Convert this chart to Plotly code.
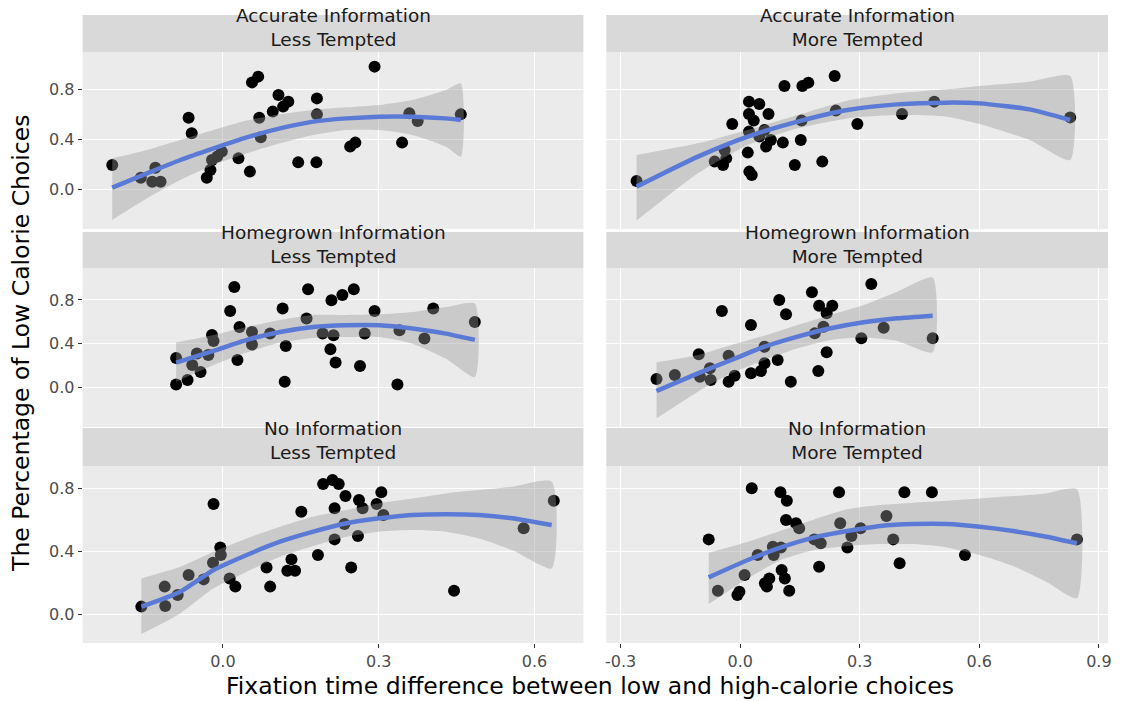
import plotly.graph_objects as go

# ---------------- data ----------------
# Panel: Accurate Information / Less Tempted
acc_less_x = [-0.213, -0.158, -0.136, -0.13, -0.12, -0.066, -0.06, -0.031, -0.024, -0.021, -0.011, -0.002,
              0.03, 0.052, 0.056, 0.068, 0.07, 0.073, 0.096, 0.107, 0.116, 0.126, 0.145, 0.18, 0.181, 0.181,
              0.245, 0.255, 0.292, 0.345, 0.359, 0.375, 0.458]
acc_less_y = [0.192, 0.09, 0.058, 0.17, 0.058, 0.57, 0.446, 0.09, 0.152, 0.232, 0.259, 0.299,
              0.245, 0.139, 0.853, 0.899, 0.57, 0.413, 0.619, 0.752, 0.659, 0.699, 0.213, 0.213, 0.725, 0.597,
              0.339, 0.371, 0.979, 0.371, 0.605, 0.544, 0.597]
acc_less_sx = [-0.213, -0.146, -0.082, -0.018, 0.046, 0.110, 0.174, 0.238, 0.301, 0.365, 0.429, 0.458]
acc_less_fit = [0.011, 0.125, 0.232, 0.325, 0.413, 0.485, 0.539, 0.565, 0.579, 0.579, 0.565, 0.552]
acc_less_lo = [-0.248, -0.075, 0.072, 0.192, 0.285, 0.365, 0.432, 0.472, 0.472, 0.432, 0.339, 0.259]
acc_less_hi = [0.245, 0.312, 0.392, 0.472, 0.547, 0.597, 0.632, 0.653, 0.672, 0.712, 0.792, 0.845]

# Panel: Accurate Information / More Tempted
acc_more_x = [-0.26, -0.064, -0.043, -0.035, -0.039, -0.02, 0.022, 0.022, 0.022, 0.019, 0.023, 0.029,
              0.034, 0.048, 0.048, 0.061, 0.065, 0.071, 0.077, 0.107, 0.111, 0.137, 0.152, 0.154, 0.156,
              0.171, 0.206, 0.237, 0.24, 0.294, 0.406, 0.487, 0.828]
acc_more_y = [0.064, 0.219, 0.192, 0.245, 0.312, 0.52, 0.699, 0.6, 0.459, 0.291, 0.139, 0.112,
              0.547, 0.68, 0.419, 0.472, 0.339, 0.6, 0.392, 0.371, 0.824, 0.192, 0.392, 0.547, 0.824,
              0.851, 0.219, 0.904, 0.627, 0.52, 0.6, 0.699, 0.573]
acc_more_sx = [-0.26, -0.106, 0.019, 0.144, 0.269, 0.394, 0.518, 0.601, 0.726, 0.828]
acc_more_fit = [0.019, 0.259, 0.419, 0.539, 0.632, 0.677, 0.691, 0.685, 0.637, 0.552]
acc_more_lo = [-0.253, 0.125, 0.352, 0.485, 0.565, 0.592, 0.579, 0.52, 0.392, 0.232]
acc_more_hi = [0.272, 0.365, 0.472, 0.592, 0.707, 0.765, 0.797, 0.824, 0.859, 0.904]

# Panel: Homegrown Information / Less Tempted
home_less_x = [-0.09, -0.09, -0.068, -0.059, -0.05, -0.043, -0.028, -0.021, -0.018, 0.014, 0.022, 0.028,
               0.032, 0.056, 0.056, 0.091, 0.115, 0.121, 0.119, 0.161, 0.164, 0.192, 0.209, 0.207, 0.213,
               0.217, 0.23, 0.252, 0.264, 0.273, 0.292, 0.336, 0.34, 0.388, 0.405, 0.485]
home_less_y = [0.269, 0.025, 0.067, 0.204, 0.309, 0.14, 0.296, 0.479, 0.424, 0.699, 0.919, 0.25,
               0.553, 0.507, 0.391, 0.492, 0.721, 0.379, 0.051, 0.63, 0.898, 0.492, 0.797, 0.348, 0.476,
               0.226, 0.846, 0.898, 0.195, 0.492, 0.699, 0.025, 0.522, 0.446, 0.721, 0.599]
home_less_sx = [-0.09, -0.018, 0.046, 0.110, 0.174, 0.238, 0.301, 0.365, 0.429, 0.485]
home_less_fit = [0.226, 0.333, 0.434, 0.507, 0.553, 0.568, 0.568, 0.538, 0.492, 0.434]
home_less_lo = [0.051, 0.204, 0.318, 0.41, 0.452, 0.461, 0.461, 0.4, 0.263, 0.094]
home_less_hi = [0.41, 0.479, 0.553, 0.617, 0.663, 0.663, 0.669, 0.69, 0.736, 0.767]

# Panel: Homegrown Information / More Tempted
home_more_x = [-0.21, -0.164, -0.104, -0.101, -0.076, -0.074, -0.046, -0.029, -0.029, -0.014, 0.027, 0.027,
               0.052, 0.061, 0.061, 0.094, 0.098, 0.115, 0.127, 0.18, 0.187, 0.196, 0.198, 0.209, 0.217,
               0.217, 0.231, 0.304, 0.329, 0.36, 0.483]
home_more_y = [0.076, 0.113, 0.302, 0.097, 0.174, 0.067, 0.699, 0.29, 0.051, 0.106, 0.571, 0.128,
               0.149, 0.372, 0.22, 0.25, 0.8, 0.669, 0.051, 0.871, 0.494, 0.149, 0.748, 0.555, 0.678,
               0.321, 0.748, 0.449, 0.947, 0.546, 0.449]
home_more_sx = [-0.21, -0.106, -0.022, 0.061, 0.144, 0.227, 0.31, 0.394, 0.483]
home_more_fit = [-0.034, 0.128, 0.25, 0.372, 0.464, 0.541, 0.596, 0.632, 0.656]
home_more_lo = [-0.284, -0.04, 0.128, 0.25, 0.357, 0.434, 0.455, 0.424, 0.321]
home_more_hi = [0.229, 0.296, 0.388, 0.473, 0.571, 0.663, 0.754, 0.876, 1.005]

# Panel: No Information / Less Tempted
no_less_x = [-0.157, -0.112, -0.111, -0.087, -0.066, -0.037, -0.019, -0.018, -0.005, -0.004, 0.013, 0.024,
             0.084, 0.091, 0.124, 0.132, 0.139, 0.151, 0.183, 0.193, 0.211, 0.215, 0.215, 0.223, 0.234,
             0.236, 0.247, 0.26, 0.262, 0.269, 0.296, 0.305, 0.309, 0.445, 0.579, 0.637]
no_less_y = [0.047, 0.174, 0.051, 0.121, 0.248, 0.22, 0.326, 0.698, 0.423, 0.375, 0.226, 0.174,
             0.296, 0.174, 0.275, 0.347, 0.275, 0.65, 0.375, 0.825, 0.851, 0.671, 0.474, 0.825, 0.571,
             0.749, 0.296, 0.495, 0.724, 0.671, 0.698, 0.773, 0.629, 0.148, 0.544, 0.72]
no_less_sx = [-0.157, -0.082, -0.018, 0.046, 0.110, 0.174, 0.238, 0.301, 0.365, 0.429, 0.493, 0.557, 0.633]
no_less_fit = [0.047, 0.142, 0.279, 0.375, 0.459, 0.523, 0.576, 0.608, 0.629, 0.633, 0.629, 0.608, 0.565]
no_less_lo = [-0.127, 0.004, 0.163, 0.269, 0.364, 0.432, 0.491, 0.523, 0.533, 0.523, 0.48, 0.406, 0.29]
no_less_hi = [0.226, 0.3, 0.396, 0.48, 0.554, 0.618, 0.66, 0.703, 0.734, 0.766, 0.787, 0.808, 0.84]

# Panel: No Information / More Tempted
no_more_x = [-0.079, -0.056, -0.007, -0.002, 0.011, 0.029, 0.044, 0.062, 0.067, 0.073, 0.082, 0.084,
             0.101, 0.102, 0.104, 0.112, 0.117, 0.115, 0.123, 0.14, 0.148, 0.186, 0.198, 0.202, 0.248,
             0.251, 0.269, 0.279, 0.302, 0.367, 0.384, 0.4, 0.412, 0.481, 0.564, 0.845]
no_more_y = [0.474, 0.148, 0.121, 0.142, 0.248, 0.798, 0.375, 0.195, 0.174, 0.226, 0.427, 0.375,
             0.773, 0.423, 0.279, 0.226, 0.72, 0.597, 0.148, 0.576, 0.544, 0.474, 0.3, 0.449, 0.773,
             0.576, 0.423, 0.495, 0.544, 0.622, 0.474, 0.322, 0.773, 0.773, 0.375, 0.474]
no_more_sx = [-0.079, 0.019, 0.102, 0.186, 0.269, 0.352, 0.435, 0.518, 0.601, 0.685, 0.768, 0.845]
no_more_fit = [0.233, 0.343, 0.423, 0.487, 0.527, 0.559, 0.571, 0.571, 0.554, 0.527, 0.491, 0.449]
no_more_lo = [0.063, 0.226, 0.343, 0.406, 0.432, 0.444, 0.444, 0.423, 0.375, 0.305, 0.205, 0.1]
no_more_hi = [0.389, 0.459, 0.529, 0.601, 0.665, 0.692, 0.707, 0.72, 0.734, 0.749, 0.766, 0.792]

strip_top = ["Accurate Information", "Accurate Information", "Homegrown Information",
             "Homegrown Information", "No Information", "No Information"]
strip_bottom = ["Less Tempted", "More Tempted"] * 3

y_ticks = [0.0, 0.4, 0.8]
y_ticktext = ["0.0", "0.4", "0.8"]
x_left_ticks = [0.0, 0.3, 0.6]
x_left_ticktext = ["0.0", "0.3", "0.6"]
x_right_ticks = [-0.3, 0.0, 0.3, 0.6, 0.9]
x_right_ticktext = ["-0.3", "0.0", "0.3", "0.6", "0.9"]

x_title = "Fixation time difference between low and high-calorie choices"
y_title = "The Percentage of Low Calorie Choices"

panels = [
    (acc_less_x, acc_less_y, acc_less_sx, acc_less_fit, acc_less_lo, acc_less_hi),
    (acc_more_x, acc_more_y, acc_more_sx, acc_more_fit, acc_more_lo, acc_more_hi),
    (home_less_x, home_less_y, home_less_sx, home_less_fit, home_less_lo, home_less_hi),
    (home_more_x, home_more_y, home_more_sx, home_more_fit, home_more_lo, home_more_hi),
    (no_less_x, no_less_y, no_less_sx, no_less_fit, no_less_lo, no_less_hi),
    (no_more_x, no_more_y, no_more_sx, no_more_fit, no_more_lo, no_more_hi),
]

# ---------------- layout geometry (pixels) ----------------
W, H = 1121, 701
col_px = [(82, 585), (608, 1112)]
row_px = [(52, 229), (268, 427), (466, 643)]
strip_px = [(15, 52), (232, 268), (428, 466)]
x_ranges = [[-0.27, 0.694], [-0.336, 0.923]]
y_ranges = [[-0.32, 1.096], [-0.364, 1.093], [-0.184, 0.94]]

FONT = "DejaVu Sans, Verdana, sans-serif"

fig = go.Figure()
layout = dict(
    width=W, height=H,
    margin=dict(l=0, r=0, t=0, b=0),
    paper_bgcolor="white", plot_bgcolor="#EBEBEB",
    showlegend=False,
    font=dict(family=FONT),
)
shapes = []
annotations = []

for i, (px, py, sx, fit, lo, hi) in enumerate(panels):
    r, c = divmod(i, 2)
    k = "" if i == 0 else str(i + 1)
    xa, ya = "x" + k, "y" + k
    # points
    fig.add_trace(go.Scatter(x=px, y=py, mode="markers", xaxis=xa, yaxis=ya,
                             marker=dict(color="black", size=12, line=dict(width=0)),
                             hoverinfo="x+y"))
    # fit line
    fig.add_trace(go.Scatter(x=sx, y=fit, mode="lines", xaxis=xa, yaxis=ya,
                             line=dict(color="#3366FF", width=4.5, shape="spline", smoothing=0.6),
                             hoverinfo="x+y"))
    # confidence ribbon (drawn on top, semi-transparent)
    fig.add_trace(go.Scatter(x=sx + sx[::-1], y=hi + lo[::-1], mode="lines", xaxis=xa, yaxis=ya,
                             fill="toself", fillcolor="rgba(153,153,153,0.4)",
                             line=dict(width=0, color="rgba(0,0,0,0)", shape="spline", smoothing=0.6),
                             hoverinfo="skip"))

    x0, x1 = col_px[c]
    y0, y1 = row_px[r]
    xdom = [x0 / W, x1 / W]
    ydom = [1 - y1 / H, 1 - y0 / H]
    bottom = (r == 2)
    left = (c == 0)
    layout["xaxis" + k] = dict(
        domain=xdom, anchor=ya, range=x_ranges[c],
        tickvals=x_left_ticks if left else x_right_ticks,
        ticktext=x_left_ticktext if left else x_right_ticktext,
        showticklabels=bottom, ticks="outside" if bottom else "",
        ticklen=4, tickwidth=1, tickcolor="#333333",
        tickfont=dict(size=16, color="#4D4D4D", family=FONT),
        showgrid=True, gridcolor="white", gridwidth=1.3,
        zeroline=False, showline=False, fixedrange=True,
    )
    layout["yaxis" + k] = dict(
        domain=ydom, anchor=xa, range=y_ranges[r],
        tickvals=y_ticks, ticktext=y_ticktext,
        showticklabels=left, ticks="outside" if left else "",
        ticklen=4, tickwidth=1, tickcolor="#333333",
        tickfont=dict(size=16, color="#4D4D4D", family=FONT),
        showgrid=True, gridcolor="white", gridwidth=1.3,
        zeroline=False, showline=False, fixedrange=True,
    )
    # strip
    s0, s1 = strip_px[r]
    shapes.append(dict(type="rect", xref="paper", yref="paper",
                       x0=x0 / W, x1=x1 / W, y0=1 - s1 / H, y1=1 - s0 / H,
                       fillcolor="#D9D9D9", line=dict(width=0), layer="below"))
    annotations.append(dict(text=strip_top[i] + "<br>" + strip_bottom[i],
                            xref="paper", yref="paper",
                            x=(x0 + x1) / 2 / W, y=1 - (s0 + 12.5) / H,
                            xanchor="center", yanchor="middle", showarrow=False,
                            font=dict(size=18.5, color="#1A1A1A", family=FONT)))

annotations.append(dict(text=x_title, xref="paper", yref="paper", x=592 / W, y=1 - 686 / H,
                        xanchor="center", yanchor="middle", showarrow=False,
                        font=dict(size=23.5, color="black", family=FONT)))
annotations.append(dict(text=y_title, xref="paper", yref="paper", x=20 / W, y=1 - 343 / H,
                        xanchor="center", yanchor="middle", showarrow=False, textangle=-90,
                        font=dict(size=23.5, color="black", family=FONT)))

layout["shapes"] = shapes
layout["annotations"] = annotations
fig.update_layout(**layout)
fig.write_html("out.html",
               config={"displayModeBar": False},
               post_script="document.body.style.margin='0px';document.body.style.overflow='hidden';")
